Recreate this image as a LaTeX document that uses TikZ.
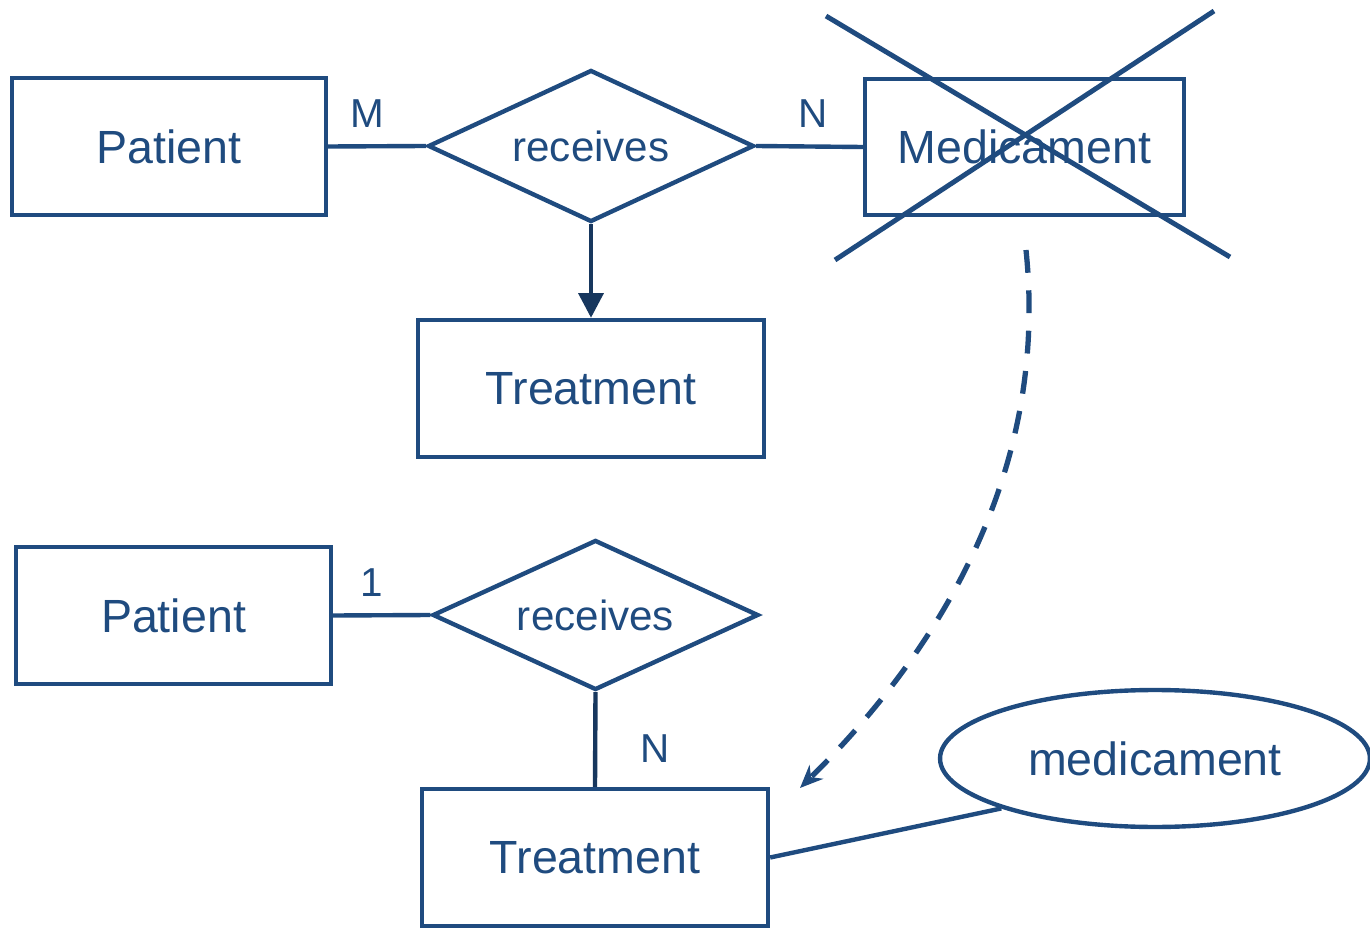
\documentclass[tikz,border=0pt]{standalone}
\usepackage{fontspec}
\setmainfont{Liberation Sans}
\usetikzlibrary{shapes.geometric}
\usetikzlibrary{arrows.meta}
\definecolor{erblue}{HTML}{1F4B7F}
\definecolor{erdark}{HTML}{17375E}
\tikzset{entity/.style={draw=erblue,line width=2.5pt,minimum height=2.74cm,inner sep=0pt,text=erblue,font=\fontsize{26.5}{30}\selectfont}}
\tikzset{relation/.style={diamond,aspect=2.1,draw=erblue,line width=2.5pt,minimum width=6.52cm,minimum height=3.04cm,inner sep=0pt,text=erblue,font=\fontsize{24}{28}\selectfont}}
\tikzset{attr/.style={ellipse,draw=erblue,line width=2.5pt,minimum width=8.6cm,minimum height=2.74cm,inner sep=0pt,text=erblue,font=\fontsize{26.5}{30}\selectfont}}
\tikzset{card/.style={inner sep=0pt,text=erblue,font=\fontsize{23}{27}\selectfont}}
\tikzset{link/.style={draw=erblue,line width=2.5pt}}
\tikzset{cross/.style={draw=erblue,line width=2.8pt}}

\begin{document}
\begin{tikzpicture}[x=0.02cm,y=-0.02cm]
                \useasboundingbox (0,0) rectangle (1370,929);

                \node[entity,minimum width=6.28cm] (pat1) at (169,146.5) {Patient};
                \node[relation] (rec1) at (591,146) {receives};
                \node[entity,minimum width=6.38cm,minimum height=2.72cm] (med1) at (1024.5,147) {Medicament};
                \node[entity,minimum width=6.92cm] (treat1) at (591,388.5) {Treatment};
                \node[card] (m1) at (367.5,113.5) {M};
                \node[card] (n1) at (813,114) {N};

                \node[entity,minimum width=6.3cm] (pat2) at (173.5,615.5) {Patient};
                \node[relation,minimum height=3cm] (rec2) at (595.5,615) {receives};
                \node[entity,minimum width=6.92cm] (treat2) at (595,857.5) {Treatment};
                \node[attr] (med2) at (1155,758.5) {medicament};
                \node[card] (one2) at (372,583) {1};
                \node[card] (n2) at (655.5,748.5) {N};

                \draw[link] (pat1.east) -- (rec1.west);
                \draw[link] (rec1.east) -- (med1.west);
                \draw[link,draw=erdark,-{Triangle[length=14pt,width=14pt]}] (rec1) -- (treat1);

                \draw[link] (pat2.east) -- (rec2.west);
                \draw[link,draw=erdark] (rec2.south) -- (treat2.north);
                \draw[link] (treat2.east) -- (med2.198);

                % crossed out
                \coordinate (x1) at (826,16);
                \coordinate (x2) at (1230,257);
                \coordinate (x3) at (1214,11);
                \coordinate (x4) at (835,260);
                \draw[cross] (x1) -- (x2);
                \draw[cross] (x3) -- (x4);

                \coordinate (src) at (1026,250);
                \coordinate (dst) at (800,788);
                \draw[link,line width=3pt,dash pattern=on 13pt off 10pt,-{Stealth[length=13pt,width=11pt]}] (src) .. controls (1050,480) and (930,660) .. (dst);
            \end{tikzpicture}
\end{document}
